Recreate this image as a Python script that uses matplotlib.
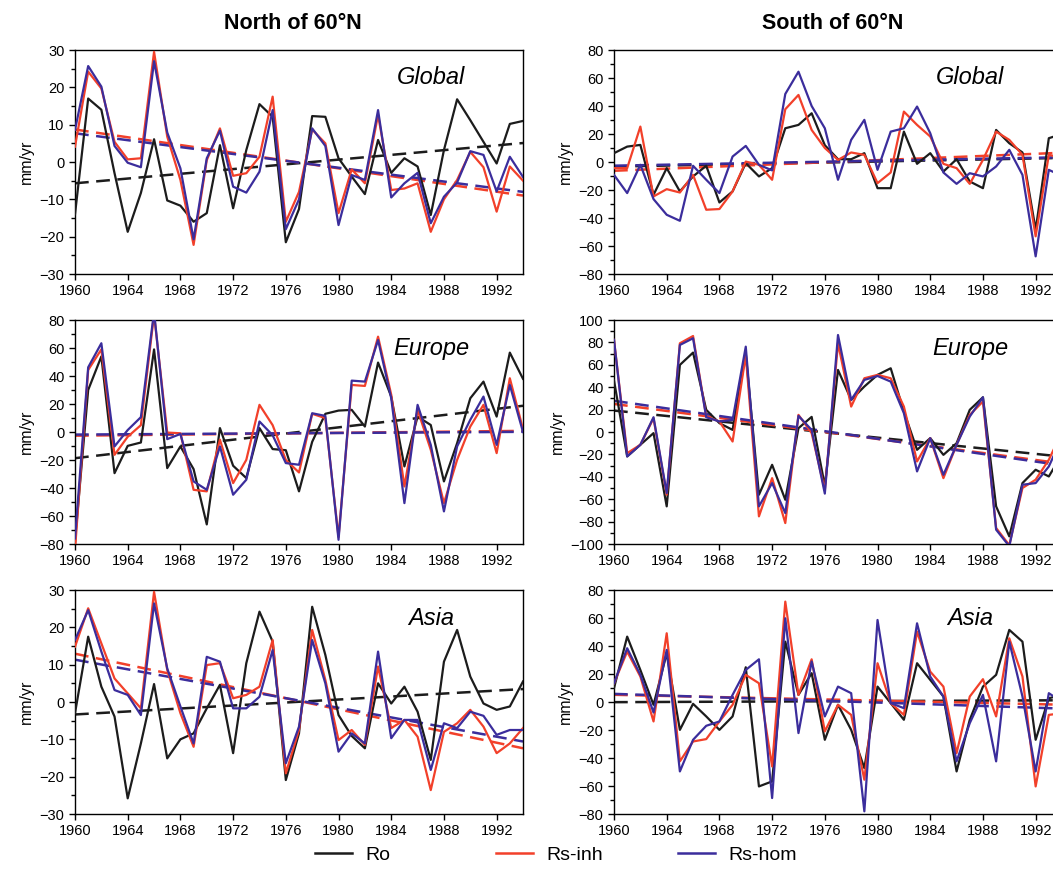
import numpy as np
import matplotlib
matplotlib.use("Agg")
import matplotlib.pyplot as plt
from matplotlib.ticker import MultipleLocator
from matplotlib.lines import Line2D

plt.rcParams['font.family'] = ['Liberation Sans', 'DejaVu Sans']

years = np.arange(1960, 1995)

# North of 60N - Global
n_glob_ro = [-14, 17, 14, -3, -18.7, -8.3, 6.1, -10.3, -11.7, -16, -13.7, 4.5, -12.4, 3.2, 15.5, 12.1,
             -21.5, -12.6, 12.3, 12.1, 1.0, -3.9, -8.6, 5.9, -2.9, 1.0, -1.2, -14.2, 3.2, 16.8,
             11.2, 5.4, -0.4, 10.2, 11]
n_glob_inh = [4.1, 24.2, 19.7, 5.4, 0.7, 1.0, 29.5, 6.8, -4.8, -22.2, 0.5, 9.0, -3.7, -3.0, 1.4, 17.5,
              -16, -8, 8.7, 5.0, -13.7, -2.0, -5.7, 12.6, -7.5, -7.1, -5.7, -18.7, -10, -4.8,
              2.7, -1.4, -13.3, -1.2, -5]
n_glob_hom = [8.6, 25.7, 20.2, 4.3, -0.2, -1.4, 27, 7.9, -1.7, -20.7, 1.0, 8.4, -6.6, -8.2, -2.6, 13.9,
              -18, -10, 9.0, 4.3, -16.9, -3.5, -4.8, 13.9, -9.5, -5.7, -2.9, -16.4, -9.3, -5.5,
              2.9, 1.9, -7.9, 1.4, -4]

# North of 60N - Europe
n_eur_ro = [-78, 30, 54, -29.4, -9.9, -7.5, 59, -25.8, -10.3, -26.5, -66, 2.8, -24.1, -32.9, 2.8, -12.2,
            -13, -42.4, -7, 13, 15.3, 15.8, 3.9, 49.6, 25.3, -24.6, 11, 5, -35.3, -8,
            24.1, 36, 11, 56.7, 38]
n_eur_inh = [-84, 44.3, 59, -16.3, -3.4, 4.9, 84, -0.4, -0.9, -41.3, -42.4, -5.5, -36.5, -19.9, 19.4, 4.9,
             -20, -28.9, 13, 9.9, -75, 33.6, 32.9, 68.1, 26.6, -38.9, 15.8, -12.7, -50.8, -19.9,
             3.9, 19.4, -15.1, 38.4, 2]
n_eur_hom = [-76, 46.2, 63.4, -10.3, 1.4, 10.6, 86, -5.1, -1.4, -35.3, -41.3, -10.3, -44.8, -34.1, 7.5, -2.3,
             -22.2, -23.4, 13.4, 11.5, -77, 36.7, 36, 65.7, 24.1, -50.8, 19.4, -9.2, -56.7, -10.3,
             8.7, 25.3, -9.2, 33.6, 0]

# North of 60N - Asia
n_asia_ro = [-3, 17.5, 4.1, -3.9, -25.8, -11.1, 4.8, -15.1, -10, -8.4, -1.7, 4.6, -13.7, 10.4, 24.2, 16.2,
             -20.9, -8.4, 25.5, 12.6, -3.5, -9.1, -12.4, 5, -0.4, 4.1, -2.6, -15.5, 10.8, 19.3,
             6.8, -0.4, -2.1, -1.2, 5.5]
n_asia_inh = [14.8, 25.1, 15.7, 6.3, 2.3, -1.7, 29.5, 8.6, -3, -12, 9.9, 10.4, 1, 1.9, 4.1, 16.6,
              -19.1, -7.5, 19.3, 5.9, -10.2, -7.5, -11.5, 9.5, -7, -4.8, -9.3, -23.6, -8, -5.7,
              -2.1, -6.6, -13.7, -11.1, -7]
n_asia_hom = [16.6, 24.6, 13.5, 3.2, 1.9, -3.5, 26.4, 9, -1.2, -11.1, 12.1, 10.8, -1.7, -1.7, 1.4, 13.9,
              -16.4, -6.6, 16.6, 5, -13.3, -8.4, -11.1, 13.5, -9.7, -4.8, -4.8, -18.2, -5.7, -7,
              -2.6, -3.7, -8.8, -7.5, -7.5]

# South of 60N - Global
s_glob_ro = [6.3, 11, 12.2, -23.4, -4.4, -21, -10.3, -2.7, -28.9, -21, -0.8, -10.3, -4.4, 24.1, 26.5, 34.8,
             12, 2, 2, 6.3, -18.7, -18.7, 21.7, -1.3, 6.3, -6.8, 2, -13.9, -18.7, 22.9,
             13.4, 6.8, -48.4, 17, 20]
s_glob_inh = [-4.4, -4.4, 25.3, -24.6, -19.4, -21.8, -9.2, -34.1, -33.6, -21, 0.3, -2, -12.7, 37.7, 47.9, 22.9,
              10, 1.5, 6.8, 5.1, -15.1, -7.5, 36, 26.5, 18.2, -1.3, -4.4, -15.6, 1.5, 21.7,
              15.8, 5.1, -53.1, 5.1, 3]
s_glob_hom = [-9.2, -22.2, -2, -26.5, -37.7, -42, -2.7, -12.7, -22.2, 3.9, 11.5, -2, -6, 48.6, 64.5, 40,
              24.1, -12.7, 15.8, 30.1, -5.6, 21.7, 24.1, 39.6, 20.6, -7.5, -15.6, -8, -10.3, -3.2,
              8.7, -9.2, -67.4, -5.6, -10]

# South of 60N - Europe
s_eur_ro = [46, -21.8, -11.4, -1, -66.4, 59.9, 70.9, 19.8, 7.9, 1.9, 70.3, -56, -29.3, -60.5, 3.4, 13.5,
            -48, 55.4, 28.7, 40.6, 51, 56.9, 18.3, -15.9, -5.5, -20.4, -10, 19.8, 31, -66.4,
            -93.2, -45.6, -33.7, -39.7, -20]
s_eur_inh = [82.2, -18.9, -11.4, 12.3, -56, 79.2, 85.7, 13.8, 9.4, -8.5, 68.8, -75.3, -41.2, -81.3, 15.3, -1,
             -52, 79.2, 22.7, 48, 51, 48, 22.7, -26.3, -5.5, -41.2, -11.4, 15.3, 27.2, -85.7,
             -101, -50, -42.6, -24.8, 0]
s_eur_hom = [82.2, -21.8, -11.4, 13.2, -54.5, 77.7, 83.7, 13.2, 9.4, 10.8, 76.2, -66.4, -45.6, -72.4, 14.4, 1.9,
             -55, 86.6, 28.7, 46.5, 50, 45, 16.8, -35.2, -5.5, -38.2, -11.4, 13.8, 31, -87.2,
             -102, -47.1, -45.6, -30.8, -5]

# South of 60N - Asia
s_asia_ro = [9.9, 46.7, 22.9, -2, 34.8, -19.9, -1.3, -10.3, -19.9, -10.3, 24.8, -60.3, -56.7, 43.1, 5.1, 20.6,
             -27, -2, -19.9, -47.2, 11, -0.8, -12.7, 27.7, 15.8, 3.9, -49.6, -12.7, 11, 19.4,
             51.5, 43.1, -27, 2.7, 5]
s_asia_inh = [13.4, 36, 18.2, -13.9, 49.1, -42.4, -28.2, -26.5, -13.9, -2, 19.4, 13.4, -46, 71.7, 5.1, 30.5,
              -21, -2, -9.2, -55.5, 27.7, -0.8, -9.2, 50.3, 21.7, 11, -36.5, 3.9, 16.3, -10.3,
              45.5, 18.2, -60.3, -9.2, -8]
s_asia_hom = [13.4, 38.4, 19.4, -7.5, 37.2, -49.6, -27, -17, -13.9, 5.1, 22.9, 30.5, -68.6, 59.8, -22.2, 28.9,
              -10.3, 11, 6.3, -78.1, 58.6, -0.8, -4.4, 56.2, 18.2, 3.9, -42.4, -15.1, 5.1, -42.4,
              43.1, 3.9, -49.6, 6.3, 0]

column_titles = ["North of 60°N", "South of 60°N"]
region_names = ["Global", "Europe", "Asia"]
series_names = ["Ro", "Rs-inh", "Rs-hom"]
series_colors = ["#1c1c1c", "#f2402a", "#3b2d9c"]
year_ticks = list(range(1960, 1993, 4))

panels = [
    [(n_glob_ro, n_glob_inh, n_glob_hom), (s_glob_ro, s_glob_inh, s_glob_hom)],
    [(n_eur_ro, n_eur_inh, n_eur_hom), (s_eur_ro, s_eur_inh, s_eur_hom)],
    [(n_asia_ro, n_asia_inh, n_asia_hom), (s_asia_ro, s_asia_inh, s_asia_hom)],
]
y_limits = [[(-30, 30, 10, 5), (-80, 80, 20, 10)],
            [(-80, 80, 20, 10), (-100, 100, 20, 10)],
            [(-30, 30, 10, 5), (-80, 80, 20, 10)]]

fig = plt.figure(figsize=(10.53, 8.71), dpi=100)
W, H = 1053, 871
col_left = [75, 614]
row_top = [50, 320, 590]
ax_w, ax_h = 448, 224
title_x = [293, 833]
LW = 1.6

for r in range(3):
    for c in range(2):
        ax = fig.add_axes([col_left[c] / W, 1 - (row_top[r] + ax_h) / H, ax_w / W, ax_h / H])
        data = panels[r][c]
        # least-squares trend of each series, drawn dashed beneath the series
        for vals, col in zip(data, series_colors):
            k, b = np.polyfit(years, vals, 1)
            ax.plot(years, k * years + b, color=col, lw=LW + 0.2, ls=(0, (5.5, 3)), zorder=2)
        for vals, col, name in zip(data, series_colors, series_names):
            ax.plot(years, vals, color=col, lw=LW, label=name, zorder=3)
        lo, hi, major, minor = y_limits[r][c]
        ax.set_ylim(lo, hi)
        ax.set_xlim(1960, 1994)
        ax.yaxis.set_major_locator(MultipleLocator(major))
        ax.yaxis.set_minor_locator(MultipleLocator(minor))
        ax.set_xticks(year_ticks)
        ax.tick_params(axis='both', which='major', labelsize=10.5, direction='out', length=4, width=1)
        ax.tick_params(axis='y', which='minor', direction='out', length=3, width=1)
        for s in ax.spines.values():
            s.set_linewidth(1.0)
        ax.set_ylabel("mm/yr", fontsize=11.5, labelpad=4)
        ax.text(0.795, 0.875, region_names[r], transform=ax.transAxes, ha='center', va='center',
                fontsize=17, style='italic')
        if r == 0:
            ax.text((title_x[c] - col_left[c]) / ax_w, 1.12, column_titles[c], transform=ax.transAxes,
                    ha='center', va='center', fontsize=15.5, fontweight='bold')

# legend entries placed individually along the bottom
legend_x = [315, 496, 678]
for name, col, lx in zip(series_names, series_colors, legend_x):
    h = Line2D([], [], color=col, lw=LW + 0.2)
    fig.legend([h], [name], loc='center left', bbox_to_anchor=(lx / W, 1 - 855 / H),
               frameon=False, fontsize=14, handlelength=1.9, handletextpad=0.7,
               borderpad=0, borderaxespad=0)

fig.savefig("out.png", dpi=100)
